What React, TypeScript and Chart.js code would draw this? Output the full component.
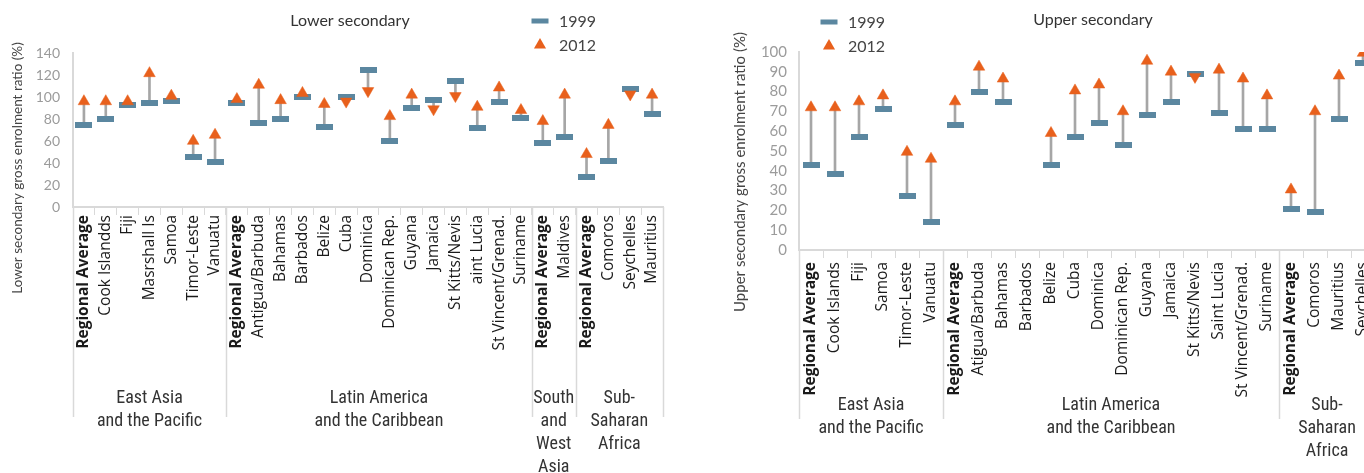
import React, { useEffect, useRef } from 'react';
import { Chart, registerables } from 'chart.js';

Chart.register(...registerables);

// ---- Lower secondary ----
const lowerCategories = [
  'Regional Average', 'Cook Islandds', 'Fiji', 'Masrshall Is', 'Samoa', 'Timor-Leste', 'Vanuatu',
  'Regional Average', 'Antigua/Barbuda', 'Bahamas', 'Barbados', 'Belize', 'Cuba', 'Dominica',
  'Dominican Rep.', 'Guyana', 'Jamaica', 'St Kitts/Nevis', 'aint Lucia', 'St Vincent/Grenad.', 'Suriname',
  'Regional Average', 'Maldives',
  'Regional Average', 'Comoros', 'Seychelles', 'Mauritius',
];
const lower1999 = [74.5, 80, 93, 95, 96.5, 45.5, 41, 95, 76.5, 80, 100, 73, 100, 125, 60, 90, 97.5, 115, 72, 95.5, 80.5, 58.5, 64, 27.5, 42, 107.5, 85];
const lower2012 = [96, 96, 96, 121.5, 101, 60, 65.5, 98, 111, 97, 103.5, 93.5, 96, 105.5, 82.5, 102, 89, 101, 91, 108.5, 88, 78, 102, 48, 74.5, 102.5, 102];
const lowerGroupNames = [
  ['East Asia', 'and the Pacific'],
  ['Latin America', 'and the Caribbean'],
  ['South', 'and', 'West', 'Asia'],
  ['Sub-', 'Saharan', 'Africa'],
];
const lowerGroupSizes = [7, 14, 2, 4];
const lowerTicks = { max: 140, step: 20 };

// ---- Upper secondary ----
const upperCategories = [
  'Regional Average', 'Cook Islands', 'Fiji', 'Samoa', 'Timor-Leste', 'Vanuatu',
  'Regional Average', 'Atigua/Barbuda', 'Bahamas', 'Barbados', 'Belize', 'Cuba', 'Dominica',
  'Dominican Rep.', 'Guyana', 'Jamaica', 'St Kitts/Nevis', 'Saint Lucia', 'St Vincent/Grenad.', 'Suriname',
  'Regional Average', 'Comoros', 'Mauritius', 'Seychelles',
];
const upper1999 = [43, 38.5, 57, 71, 27.5, 14, 63, 80, 74.5, null, 43, 57, 64, 53, 68, 74.5, 89, 69, 61, 61, 20.5, 19, 66, 94.5];
const upper2012 = [72, 72, 75, 78, 49.5, 46, 75, 92.5, 86.5, null, 59, 80.5, 83.5, 70, 95.5, 90, 87.5, 91, 86.5, 78, 30.5, 70, 88, 99.5];
const upperGroupNames = [
  ['East Asia', 'and the Pacific'],
  ['Latin America', 'and the Caribbean'],
  ['Sub-', 'Saharan', 'Africa'],
];
const upperGroupSizes = [6, 14, 4];
const upperTicks = { max: 100, step: 10 };

const seriesNames = ['1999', '2012'];

const BLUE = '#5b87a0';
const ORANGE = '#e8601c';
const STEM = '#a6a6a6';
const AXIS = '#d9d9d9';
const TEXT = '#333333';
const TICK_GREY = '#9b9b9b';
const FONT = 'Lato, "Open Sans", sans-serif';
const LABEL_FONT = '"Open Sans", Lato, sans-serif';
const GROUP_FONT = '"Liberation Sans Narrow", "Roboto Condensed", Roboto, sans-serif';

function barMarker(w: number, h: number, color: string) {
  const c = document.createElement('canvas');
  c.width = w;
  c.height = h;
  const g = c.getContext('2d')!;
  g.fillStyle = color;
  g.fillRect(0, 0, w, h);
  return c;
}

function drawTriangle(ctx: CanvasRenderingContext2D, cx: number, cy: number, r: number) {
  ctx.beginPath();
  ctx.moveTo(cx, cy - r);
  ctx.lineTo(cx + r * 0.866, cy + r / 2);
  ctx.lineTo(cx - r * 0.866, cy + r / 2);
  ctx.closePath();
  ctx.fill();
}

// Draws the panel title, legend, rotated y title and the region brackets under the x axis
const decorPlugin = {
  id: 'decor',
  afterDraw(chart: any, _args: any, o: any) {
    const { ctx, chartArea, scales } = chart;
    const x = scales.x;
    const half = (x.getPixelForValue(1) - x.getPixelForValue(0)) / 2;
    ctx.save();

    // region separators and names
    ctx.strokeStyle = AXIS;
    ctx.lineWidth = 1.5;
    let start = 0;
    const edges: number[] = [];
    o.groupSizes.forEach((n: number, gi: number) => {
      const l = x.getPixelForValue(start) - half;
      const r = x.getPixelForValue(start + n - 1) + half;
      edges.push(l);
      if (gi === o.groupSizes.length - 1) edges.push(r);
      ctx.fillStyle = TEXT;
      ctx.font = o.groupFont;
      ctx.textAlign = 'center';
      ctx.textBaseline = 'middle';
      o.groupNames[gi].forEach((line: string, li: number) => {
        ctx.fillText(line, (l + r) / 2, o.groupY + li * o.groupLine);
      });
      start += n;
    });
    edges.forEach((ex) => {
      ctx.beginPath();
      ctx.moveTo(Math.round(ex) + 0.5, chartArea.bottom);
      ctx.lineTo(Math.round(ex) + 0.5, o.groupBottom);
      ctx.stroke();
    });

    // title
    ctx.fillStyle = TEXT;
    ctx.font = `16px ${FONT}`;
    ctx.textAlign = 'center';
    ctx.textBaseline = 'middle';
    ctx.fillText(o.title, o.titleX, o.titleY);

    // legend
    ctx.fillStyle = BLUE;
    ctx.fillRect(o.legendX - 8.5, o.legendY - 2.5, 17, 5);
    ctx.fillStyle = ORANGE;
    drawTriangle(ctx, o.legendX, o.legendY + 24, 7);
    ctx.fillStyle = '#444';
    ctx.font = `16px ${FONT}`;
    ctx.textAlign = 'left';
    ctx.fillText(seriesNames[0], o.legendX + 19, o.legendY + 1);
    ctx.fillText(seriesNames[1], o.legendX + 19, o.legendY + 25);

    // y axis title
    ctx.translate(o.yTitleX, o.yTitleY);
    ctx.rotate(-Math.PI / 2);
    ctx.fillStyle = '#444';
    ctx.font = o.yTitleFont;
    ctx.textAlign = 'center';
    ctx.fillText(o.yTitle, 0, 0);
    ctx.restore();
  },
};

type PanelProps = {
  categories: string[];
  v1999: (number | null)[];
  v2012: (number | null)[];
  ticks: { max: number; step: number };
  width: number;
  left: number;
  padTop: number;
  padRight: number;
  yAxisWidth: number;
  plotBottom: number;
  xLabelPad: number;
  yTickFont: number;
  yTickPad: number;
  labelFont: number;
  decor: any;
};

function Panel(p: PanelProps) {
  const ref = useRef<HTMLCanvasElement>(null);
  useEffect(() => {
    const marker = barMarker(17, 6, BLUE);
    const stems = p.v1999.map((a, i) => {
      const b = p.v2012[i];
      return a == null || b == null ? null : [a, b];
    });
    const H = 473;
    const chart = new Chart(ref.current!, {
      type: 'bar',
      data: {
        labels: p.categories,
        datasets: [
          {
            type: 'bar',
            data: stems as any,
            backgroundColor: STEM,
            barThickness: 2,
            order: 3,
          },
          {
            type: 'line',
            label: seriesNames[0],
            data: p.v1999 as any,
            showLine: false,
            pointStyle: marker as any,
            pointRadius: 9,
            order: 2,
          },
          {
            type: 'line',
            label: seriesNames[1],
            data: p.v2012 as any,
            showLine: false,
            pointStyle: 'triangle',
            pointRadius: 6.7,
            pointBackgroundColor: ORANGE,
            pointBorderColor: ORANGE,
            pointBorderWidth: 0.5,
            pointRotation: (c: any) => {
              const a = p.v1999[c.dataIndex];
              const b = p.v2012[c.dataIndex];
              return a != null && b != null && b < a ? 180 : 0;
            },
            order: 1,
          },
        ] as any,
      },
      options: {
        responsive: false,
        animation: false,
        events: [],
        layout: { padding: { top: p.padTop, right: p.padRight, left: 0, bottom: 0 } },
        plugins: {
          legend: { display: false },
          tooltip: { enabled: false },
          decor: p.decor,
        } as any,
        scales: {
          x: {
            offset: true,
            grid: {
              display: true,
              offset: true,
              drawOnChartArea: false,
              drawTicks: true,
              tickLength: 8,
              color: AXIS,
              lineWidth: 1,
            },
            border: { color: AXIS, width: 2 },
            ticks: {
              autoSkip: false,
              maxRotation: 90,
              minRotation: 90,
              padding: p.xLabelPad,
              color: '#1a1a1a',
              font: (c: any) => ({
                family: LABEL_FONT,
                size: p.labelFont,
                weight: p.categories[c.index] === 'Regional Average' ? 'bold' : 'normal',
              }),
            },
            afterFit: (s: any) => {
              s.height = H - p.plotBottom;
            },
          },
          y: {
            min: 0,
            max: p.ticks.max,
            ticks: {
              stepSize: p.ticks.step,
              autoSkip: false,
              color: TICK_GREY,
              padding: p.yTickPad,
              font: { family: FONT, size: p.yTickFont },
            },
            grid: { drawOnChartArea: false, drawTicks: false },
            border: { color: AXIS, width: 2 },
            afterFit: (s: any) => {
              s.width = p.yAxisWidth;
            },
          },
        },
      } as any,
      plugins: [decorPlugin],
    });
    return () => chart.destroy();
  }, []);
  return (
    <canvas
      ref={ref}
      width={p.width}
      height={473}
      style={{ position: 'absolute', left: p.left, top: 0, width: p.width, height: 473 }}
    />
  );
}

export default function App() {
  return (
    <div
      style={{
        position: 'fixed',
        left: 0,
        top: 0,
        width: 1364,
        height: 473,
        overflow: 'hidden',
        background: '#ffffff',
      }}
    >
      <Panel
        categories={lowerCategories}
        v1999={lower1999}
        v2012={lower2012}
        ticks={lowerTicks}
        width={680}
        left={0}
        padTop={53}
        padRight={17}
        yAxisWidth={73}
        plotBottom={207}
        xLabelPad={0}
        yTickFont={14}
        yTickPad={13}
        labelFont={15.5}
        decor={{
          title: 'Lower secondary',
          titleX: 350,
          titleY: 21,
          legendX: 540,
          legendY: 21,
          yTitle: 'Lower secondary gross enrolment ratio (%)',
          yTitleX: 18,
          yTitleY: 168,
          yTitleFont: `13.5px ${FONT}`,
          groupNames: lowerGroupNames,
          groupSizes: lowerGroupSizes,
          groupY: 398,
          groupLine: 23,
          groupBottom: 417,
          groupFont: `18px ${GROUP_FONT}`,
        }}
      />
      <Panel
        categories={upperCategories}
        v1999={upper1999}
        v2012={upper2012}
        ticks={upperTicks}
        width={700}
        left={690}
        padTop={52}
        padRight={15}
        yAxisWidth={109}
        plotBottom={250}
        xLabelPad={4}
        yTickFont={15}
        yTickPad={12}
        labelFont={15.5}
        decor={{
          title: 'Upper secondary',
          titleX: 403,
          titleY: 20,
          legendX: 139,
          legendY: 22,
          yTitle: 'Upper secondary gross enrolment ratio (%)',
          yTitleX: 50,
          yTitleY: 172,
          yTitleFont: `15px ${FONT}`,
          groupNames: upperGroupNames,
          groupSizes: upperGroupSizes,
          groupY: 405,
          groupLine: 23,
          groupBottom: 419,
          groupFont: `18px ${GROUP_FONT}`,
        }}
      />
    </div>
  );
}
